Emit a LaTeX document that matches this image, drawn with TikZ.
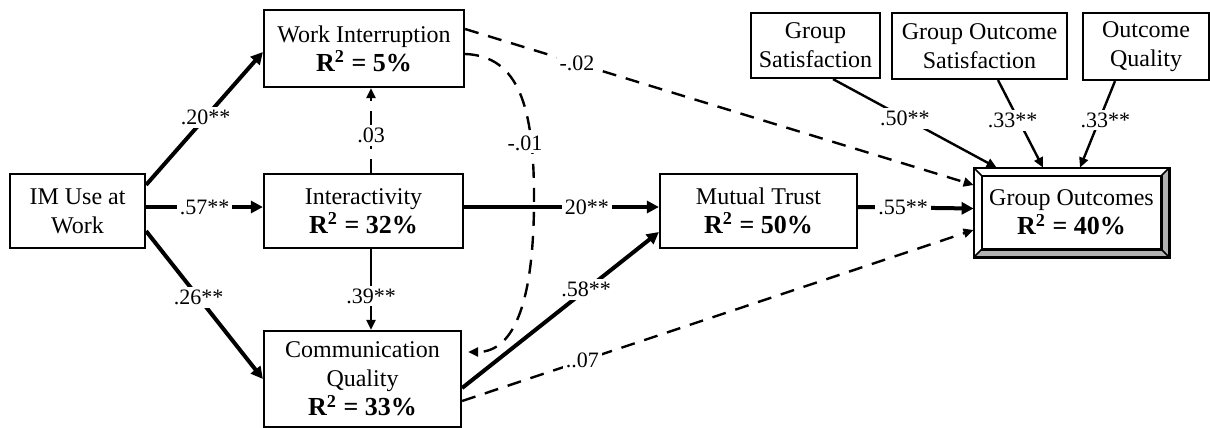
\documentclass[tikz,border=0pt]{standalone}
\usepackage{fontspec}
\setmainfont{Liberation Serif}
\usetikzlibrary{arrows.meta}
\newcommand\rsqline[1]{{\fontsize{13}{14.5}\selectfont\bfseries R\textsuperscript{2} = #1\%}}
\begin{document}
\begin{tikzpicture}[x=0.5pt,y=-0.5pt,
  box/.style={draw, line width=1.1pt, align=center, inner sep=2pt, font=\fontsize{12}{14.5}\selectfont},
  thk/.style={line width=2pt, -{Triangle[length=6pt,width=6pt]}},
  thn/.style={line width=1.2pt, -{Triangle[length=5pt,width=4.5pt]}},
  dsh/.style={line width=1.2pt, dash pattern=on 7pt off 5pt, -{Triangle[length=5pt,width=4.5pt]}},
  lbl/.style={fill=white, inner sep=1.5pt, font=\fontsize{11}{12}\selectfont}]
\useasboundingbox (0,0) rectangle (1210,428);

\node[box, minimum width=67.5pt, minimum height=37pt] (im) at (77.5,211) {IM Use at\\Work};
\node[box, minimum width=100pt, minimum height=38.5pt] (wi) at (364,48.5) {Work Interruption\\\rsqline{5}};
\node[box, minimum width=99.5pt, minimum height=37pt] (inter) at (363.5,211) {Interactivity\\\rsqline{32}};
\node[box, minimum width=98.5pt, minimum height=48pt] (cq) at (362.5,379) {Communication\\Quality\\\rsqline{33}};
\node[box, minimum width=98.5pt, minimum height=37pt] (mt) at (758.5,211) {Mutual Trust\\\rsqline{50}};
\node[box, minimum width=64.5pt, minimum height=32.5pt] (gs) at (815.5,45.5) {Group\\Satisfaction};
\node[box, minimum width=87.5pt, minimum height=33pt] (gos) at (979.5,46) {Group Outcome\\Satisfaction};
\node[box, minimum width=63pt, minimum height=33.5pt] (oq) at (1146,46.5) {Outcome\\Quality};

% Group Outcomes bevelled box
\node[align=center, inner sep=2pt, minimum width=97.5pt, minimum height=44.5pt,
      font=\fontsize{12}{14.5}\selectfont] (go) at (1071.5,212.5) {Group Outcomes\\\rsqline{40}};
\coordinate (gi1) at ([shift={(4pt,-4pt)}]go.north west);
\coordinate (gi2) at ([shift={(-4pt,-4pt)}]go.north east);
\coordinate (gi3) at ([shift={(-4pt,4pt)}]go.south east);
\coordinate (gi4) at ([shift={(4pt,4pt)}]go.south west);
\fill[black!30] (go.north east) -- (go.south east) -- (gi3) -- (gi2) -- cycle;
\fill[black!30] (go.south west) -- (go.south east) -- (gi3) -- (gi4) -- cycle;
\draw[line width=1.1pt] (go.north west) rectangle (go.south east);
\draw[line width=1.1pt] (gi1) -- (gi2) -- (gi3) -- (gi4) -- cycle;
\draw[line width=0.8pt] (go.north west) -- (gi1) (go.north east) -- (gi2)
  (go.south east) -- (gi3) (go.south west) -- (gi4);

% connectors
\draw[thk] ([yshift=-6pt]im.north east) -- node[lbl,pos=0.51]{.20**} ([yshift=-1.75pt]wi.west);
\draw[thk] ([yshift=2pt]im.east) -- node[lbl,pos=0.5]{.57**} ([yshift=2pt]inter.west);
\draw[thk] ([yshift=9pt]im.south east) -- node[lbl,pos=0.45]{.26**} (cq.west);
\draw[dsh] ([xshift=3.75pt]inter.north) -- node[lbl,pos=0.44]{.03} ([xshift=3.75pt]inter.north |- wi.south);
\draw[thn] ([xshift=3.75pt]inter.south) -- node[lbl,pos=0.58]{.39**} ([xshift=3.75pt]inter.south |- cq.north);
\draw[thk] ([yshift=2pt]inter.east) -- node[lbl,pos=0.63]{20**} ([yshift=2pt]mt.west);
\draw[thk] ([yshift=-4.5pt]cq.east) -- node[lbl,pos=0.63]{.58**} ([yshift=-10.5pt]mt.west);
\draw[dsh] ([yshift=-11pt]cq.east) -- node[lbl,pos=0.235]{..07} ([yshift=-8.75pt]go.west);
\draw[dsh] ([yshift=9.75pt]wi.east) -- node[lbl,pos=0.22]{-.02} ([yshift=13.75pt]go.west);
\draw[dsh] ([yshift=-2.75pt]wi.east) .. controls (520,56) and (533,110) .. (534,190)
  .. controls (535,300) and (515,352) .. ([xshift=3pt,yshift=13.5pt]cq.east);
\node[lbl] (lw) at (525,143) {-.01};
\draw[thk] ([yshift=2pt]mt.east) -- node[lbl,pos=0.39]{.55**} ([yshift=2pt]go.west);
\draw[thn] ([xshift=8.75pt]gs.south) -- node[lbl,pos=0.44]{.50**} ([xshift=11.5pt]go.north west);
\draw[thn] ([xshift=9.25pt]gos.south) -- node[lbl,pos=0.46,xshift=-3pt]{.33**} ([xshift=-14.25pt]go.north);
\draw[thn] ([xshift=-15.5pt]oq.south) -- node[lbl,pos=0.45,xshift=3pt]{.33**} ([xshift=4.25pt]go.north);
\end{tikzpicture}
\end{document}
